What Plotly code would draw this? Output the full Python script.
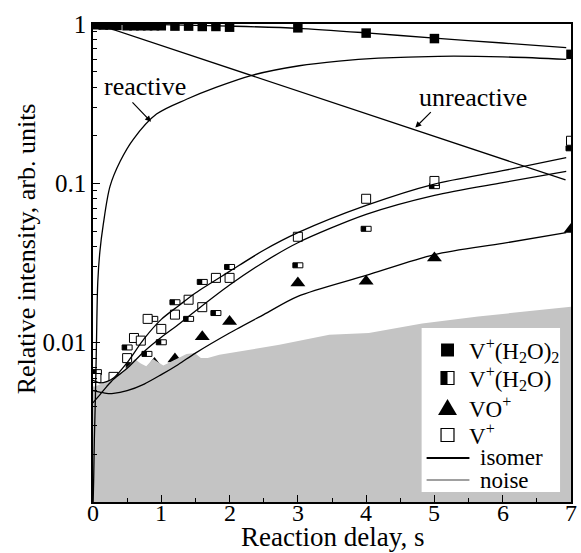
import plotly.graph_objects as go

# ---------------- data ----------------
h2o2_x = [0.05, 0.15, 0.25, 0.35, 0.5, 0.6, 0.7, 0.8, 0.9, 1.0, 1.2, 1.4, 1.6, 1.8, 2.0, 3, 4, 5, 7]
h2o2_y = [0.99, 0.985, 0.985, 0.98, 0.975, 0.975, 0.975, 0.975, 0.975, 0.975, 0.97, 0.97, 0.965, 0.965,
          0.955, 0.946, 0.877, 0.81, 0.645]

h2o_x = [0.05, 0.5, 0.56, 0.79, 0.875, 1.0, 1.2, 1.4, 1.6, 1.8, 2.0, 3, 4, 5, 7]
h2o_y = [0.0063, 0.0090, 0.0069, 0.0082, 0.0136, 0.0097, 0.0173, 0.0136, 0.0232, 0.0148, 0.0288,
         0.0295, 0.050, 0.0926, 0.16]

vo_x = [0.9, 1.2, 1.6, 2.0, 3, 4, 5, 7]
vo_y = [0.0074, 0.0079, 0.0109, 0.0136, 0.0237, 0.0243, 0.034, 0.0514]

v_x = [0.05, 0.3, 0.5, 0.6, 0.7, 0.8, 1.0, 1.2, 1.4, 1.6, 1.8, 2.0, 3, 4, 5, 7]
v_y = [0.006, 0.0061, 0.0080, 0.0107, 0.0103, 0.0141, 0.0122, 0.015, 0.0186, 0.0167, 0.0255, 0.0255,
       0.0462, 0.080, 0.1035, 0.185]

# isomer model curves
iso_x = [0, 0.1, 0.2, 0.3, 0.5, 0.75, 1.0, 1.25, 1.5, 2, 2.5, 3, 4, 5, 6, 6.93]
v_iso = [0.0058, 0.0056, 0.0057, 0.006, 0.0075, 0.0106, 0.014, 0.017, 0.0205, 0.028, 0.038, 0.049,
         0.0727, 0.099, 0.12, 0.145]
h2o_iso = [0.0042, 0.0047, 0.0053, 0.0059, 0.0069, 0.0088, 0.0108, 0.013, 0.0158, 0.023, 0.032, 0.0424,
           0.0638, 0.084, 0.101, 0.119]
vo_iso = [0.0050, 0.0049, 0.0048, 0.0048, 0.0050, 0.0055, 0.0063, 0.0073, 0.0086, 0.0115, 0.015, 0.0195,
          0.0264, 0.0357, 0.042, 0.049]

h2o2_iso_x = [0, 1, 2, 3, 4, 5, 6, 6.93]
h2o2_iso = [1.0, 0.99, 0.97, 0.94, 0.88, 0.815, 0.76, 0.71]

react_x = [0, 0.01, 0.02, 0.035, 0.05, 0.07, 0.1, 0.15, 0.25, 0.4, 0.59, 0.93, 1.37, 1.8, 2.34, 3.02,
           3.6, 4.18, 5.06, 6.0, 6.93]
react_y = [0.0009, 0.0014, 0.0025, 0.0045, 0.0095, 0.024, 0.037, 0.055, 0.096, 0.138, 0.189, 0.272,
           0.337, 0.40, 0.478, 0.547, 0.585, 0.61, 0.627, 0.622, 0.60]

unreact_x = [0.05, 6.92]
unreact_y = [1.0, 0.105]

noise_x = [0, 0.03, 0.2, 0.35, 0.54, 0.61, 0.7, 0.78, 0.88, 1.03, 1.17, 1.37, 1.49, 1.58, 1.68, 1.85,
           2.14, 2.73, 3.46, 4.04, 4.82, 5.64, 7]
noise_y = [0.0053, 0.0053, 0.0057, 0.0061, 0.0073, 0.0079, 0.0074, 0.0071, 0.0079, 0.0072, 0.0077,
           0.0085, 0.0086, 0.0080, 0.0080, 0.0084, 0.0088, 0.0097, 0.0112, 0.0115, 0.0132, 0.0146, 0.0168]
noise_floor = 1e-4

x_ticks = [0, 1, 2, 3, 4, 5, 6, 7]
x_ticktext = ["0", "1", "2", "3", "4", "5", "6", "7"]
x_minor = [0.5, 1.5, 2.5, 3.5, 4.5, 5.5, 6.5]
y_ticks = [0.01, 0.1, 1]
y_ticktext = ["0.01", "0.1", "1"]
y_minor = [m * d for d in [0.001, 0.01, 0.1] for m in [2, 3, 4, 5, 6, 7, 8, 9]]

# ---------------- layout geometry ----------------
W, H = 581, 553
ML, MR, MT, MB = 93, 8, 24, 51
PW, PH = W - ML - MR, H - MT - MB
FONT = "'Liberation Serif', 'Times New Roman', Times, serif"


def px(xp):
    return (xp - ML) / PW


def py(yp):
    return (H - MB - yp) / PH


fig = go.Figure()

# markers first (noise area drawn over them)
fig.add_trace(go.Scatter(x=h2o2_x, y=h2o2_y, mode="markers",
                         marker=dict(symbol="square", size=9.5, color="black"), showlegend=False))
fig.add_trace(go.Scatter(x=vo_x, y=vo_y, mode="markers",
                         marker=dict(symbol="triangle-up", size=13, color="black"), showlegend=False))
fig.add_trace(go.Scatter(x=v_x, y=v_y, mode="markers",
                         marker=dict(symbol="square", size=9, color="white",
                                     line=dict(color="black", width=1)), showlegend=False))

# noise area
fig.add_trace(go.Scatter(x=noise_x + noise_x[::-1], y=noise_y + [noise_floor] * len(noise_x),
                         mode="lines", fill="toself", fillcolor="rgb(196,196,196)",
                         line=dict(width=0, color="rgb(196,196,196)"), showlegend=False,
                         hoverinfo="skip"))

# curves
line = dict(color="black", width=1.3)
for cx, cy in [(iso_x, v_iso), (iso_x, h2o_iso), (iso_x, vo_iso), (h2o2_iso_x, h2o2_iso)]:
    fig.add_trace(go.Scatter(x=cx, y=cy, mode="lines", line=dict(shape="spline", smoothing=0.8, **line),
                             showlegend=False))
fig.add_trace(go.Scatter(x=react_x, y=react_y, mode="lines",
                         line=dict(shape="spline", smoothing=0.9, **line), showlegend=False))
fig.add_trace(go.Scatter(x=unreact_x, y=unreact_y, mode="lines", line=line, showlegend=False))

shapes = []
# half-filled squares (V+(H2O)) as pixel-sized shapes anchored on data, beneath traces
hs = 5
for x, y in zip(h2o_x, h2o_y):
    shapes.append(dict(type="rect", xref="x", yref="y", xsizemode="pixel", ysizemode="pixel",
                       xanchor=x, yanchor=y, x0=-hs, x1=hs, y0=-hs, y1=hs,
                       fillcolor="white", line=dict(color="black", width=1), layer="below"))
    shapes.append(dict(type="rect", xref="x", yref="y", xsizemode="pixel", ysizemode="pixel",
                       xanchor=x, yanchor=y, x0=-hs, x1=0, y0=-hs, y1=hs,
                       fillcolor="black", line=dict(width=0), layer="below"))

# manual legend
shapes.append(dict(type="rect", xref="paper", yref="paper", x0=px(423), x1=px(562), y0=py(492), y1=py(328),
                   fillcolor="white", line=dict(width=0), layer="above"))
lx = 449
ls = 6.5
rows = [350, 378, 407, 435]
shapes.append(dict(type="rect", xref="paper", yref="paper", x0=px(lx - ls), x1=px(lx + ls),
                   y0=py(rows[0] + ls), y1=py(rows[0] - ls), fillcolor="black", line=dict(width=0),
                   layer="above"))
shapes.append(dict(type="rect", xref="paper", yref="paper", x0=px(lx - ls), x1=px(lx + ls),
                   y0=py(rows[1] + ls), y1=py(rows[1] - ls), fillcolor="white",
                   line=dict(color="black", width=1.2), layer="above"))
shapes.append(dict(type="rect", xref="paper", yref="paper", x0=px(lx - ls), x1=px(lx),
                   y0=py(rows[1] + ls), y1=py(rows[1] - ls), fillcolor="black", line=dict(width=0),
                   layer="above"))
tri = "M {a},{b} L {c},{d} L {e},{f} Z".format(a=px(lx - 9.5), b=py(rows[2] + 8), c=px(lx + 9.5),
                                               d=py(rows[2] + 8), e=px(lx), f=py(rows[2] - 8))
shapes.append(dict(type="path", xref="paper", yref="paper", path=tri, fillcolor="black",
                   line=dict(width=0), layer="above"))
shapes.append(dict(type="rect", xref="paper", yref="paper", x0=px(lx - ls), x1=px(lx + ls),
                   y0=py(rows[3] + ls), y1=py(rows[3] - ls), fillcolor="white",
                   line=dict(color="black", width=1.2), layer="above"))
shapes.append(dict(type="line", xref="paper", yref="paper", x0=px(428), x1=px(471), y0=py(458), y1=py(458),
                   line=dict(color="black", width=2.2), layer="above"))
shapes.append(dict(type="line", xref="paper", yref="paper", x0=px(428), x1=px(471), y0=py(480), y1=py(480),
                   line=dict(color="rgb(160,160,160)", width=2.2), layer="above"))

leg_labels = ["V<sup>+</sup>(H<sub>2</sub>O)<sub>2</sub>", "V<sup>+</sup>(H<sub>2</sub>O)", "VO<sup>+</sup>",
              "V<sup>+</sup>", "isomer", "noise"]
leg_x = [469, 469, 469, 469, 480, 480]
leg_y = [350, 378, 407, 435, 457, 480]
annotations = []
for t, xx, yy in zip(leg_labels, leg_x, leg_y):
    annotations.append(dict(text=t, xref="paper", yref="paper", x=px(xx), y=py(yy), xanchor="left",
                            yanchor="middle", showarrow=False, font=dict(family=FONT, size=23, color="black")))

# x tick labels (placed just under the axis, as in the reference)
for tv, tt in zip(x_ticks, x_ticktext):
    annotations.append(dict(text=tt, xref="x", yref="paper", x=tv, y=py(513), xanchor="center",
                            yanchor="middle", showarrow=False, font=dict(family=FONT, size=24, color="black")))

# curve labels with arrows
annotations.append(dict(text="reactive", xref="x", yref="y", x=0.76, y=-0.39, showarrow=False,
                        font=dict(family=FONT, size=26, color="black")))
annotations.append(dict(text="", xref="x", yref="y", x=0.85, y=-0.614, ax=-20, ay=-21, showarrow=True,
                        arrowhead=2, arrowsize=1, arrowwidth=1.2, arrowcolor="black"))
annotations.append(dict(text="unreactive", xref="x", yref="y", x=5.57, y=-0.46, showarrow=False,
                        font=dict(family=FONT, size=26, color="black")))
annotations.append(dict(text="", xref="x", yref="y", x=4.72, y=-0.65, ax=17, ay=-17, showarrow=True,
                        arrowhead=2, arrowsize=1, arrowwidth=1.2, arrowcolor="black"))

# axis titles
annotations.append(dict(text="Reaction delay, s", xref="paper", yref="paper", x=px(333), y=py(536.5),
                        xanchor="center", yanchor="middle", showarrow=False,
                        font=dict(family=FONT, size=27, color="black")))
annotations.append(dict(text="Relative intensity, arb. units", xref="paper", yref="paper", x=px(26),
                        y=py(249), xanchor="center", yanchor="middle", textangle=-90, showarrow=False,
                        font=dict(family=FONT, size=26, color="black")))

fig.update_layout(
    width=W, height=H, margin=dict(l=ML, r=MR, t=MT, b=MB, pad=0),
    paper_bgcolor="white", plot_bgcolor="white", showlegend=False,
    shapes=shapes, annotations=annotations,
    font=dict(family=FONT, size=24, color="black"),
)
fig.update_xaxes(range=[0, 7], tickvals=x_ticks, ticks="inside", ticklen=7, tickwidth=1.3, tickcolor="black",
                 minor=dict(tickvals=x_minor, ticks="inside", ticklen=4, tickwidth=1.3, tickcolor="black"),
                 showline=True, linecolor="black", linewidth=1.5, mirror=True, showgrid=False, zeroline=False,
                 showticklabels=False)
fig.update_yaxes(type="log", range=[-3, 0], tickvals=y_ticks, ticktext=y_ticktext, ticks="inside", ticklen=7,
                 tickwidth=1.3, tickcolor="black",
                 minor=dict(tickvals=y_minor, ticks="inside", ticklen=4, tickwidth=1.3, tickcolor="black"),
                 showline=True, linecolor="black", linewidth=1.5, mirror=True, showgrid=False, zeroline=False,
                 tickfont=dict(family=FONT, size=25))

fig.write_html("out.html")
